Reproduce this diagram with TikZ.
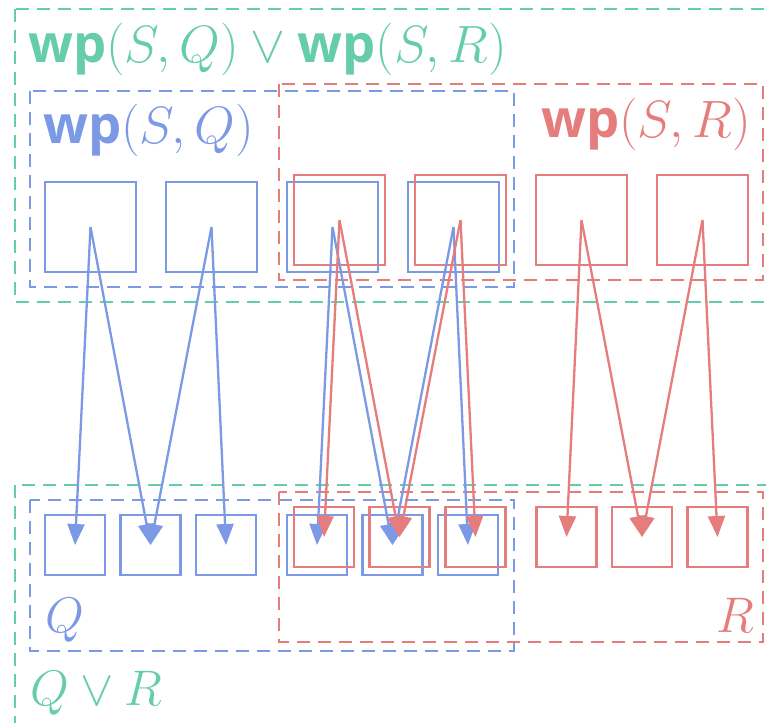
\RequirePackage{fix-cm}
\documentclass[tikz,border=0pt]{standalone}
\usepackage{fontspec}
\newfontfamily\wpf{Open Sans}
\usetikzlibrary{arrows.meta}
\definecolor{cgreen}{RGB}{102,205,170}
\definecolor{cblue}{RGB}{124,153,230}
\definecolor{cred}{RGB}{229,125,125}
\newcommand{\wpl}{\mbox{\wpf\bfseries wp}}
\begin{document}
\begin{tikzpicture}[x=1pt,y=-1pt,
  region/.style={dashed, dash pattern=on 13pt off 8pt, line width=2.8pt},
  bigbox/.style={draw, line width=2.8pt, minimum width=91pt, minimum height=90pt, inner sep=0pt},
  smallbox/.style={draw, line width=2.8pt, minimum width=60pt, minimum height=60pt, inner sep=0pt},
  link/.style={line width=2.3pt, -{Triangle[length=21pt,width=17pt]}},
  lbl/.style={anchor=base west, inner sep=0pt, font=\fontsize{50}{60}\selectfont},
  biglbl/.style={anchor=base west, inner sep=0pt, font=\fontsize{52.5}{63}\selectfont}
]
\useasboundingbox (0,0) rectangle (766,723);
\clip (0,0) rectangle (766,723);
% outer green regions
\draw[region, cgreen] (15,9) rectangle (800,302);
\draw[region, cgreen] (15,485) rectangle (800,760);
% top regions
\draw[region, cblue] (30,91) rectangle (514,287);
\draw[region, cred] (279,84) rectangle (763,280);
% bottom regions
\draw[region, cblue] (30,500) rectangle (514,651);
\draw[region, cred] (279,492) rectangle (763,642);
% labels
\node[biglbl, text=cgreen] (lwpqr) at (28,62) {$\wpl(S,Q)\vee\wpl(S,R)$};
\node[biglbl, text=cblue] (lwpq) at (43,143) {$\wpl(S,Q)$};
\node[biglbl, text=cred] (lwpr) at (541,137) {$\wpl(S,R)$};
\node[lbl, text=cblue] (lq) at (45,632) {$Q$};
\node[lbl, text=cred] (lr) at (716,632) {$R$};
\node[lbl, text=cgreen] (lqr) at (30,705) {$Q\vee R$};
% top boxes
\foreach \i/\x in {1/90.5,2/211.5,3/332.5,4/453.5}
  \node[bigbox, cblue] (tb\i) at (\x,227) {};
\foreach \i/\x in {1/339.5,2/460.5,3/581.5,4/702.5}
  \node[bigbox, cred] (tr\i) at (\x,220) {};
% bottom boxes
\foreach \i/\x in {1/75,2/150.5,3/226,4/317,5/392.5,6/468}
  \node[smallbox, cblue] (bb\i) at (\x,545) {};
\foreach \i/\x in {1/324,2/399.5,3/475.5,4/566.5,5/642,6/717.5}
  \node[smallbox, cred] (br\i) at (\x,537) {};
% arrows
\foreach \s/\a/\b in {1/1/2,2/2/3,3/4/5,4/5/6}{
  \draw[link, cblue] (tb\s.center) -- (bb\a.center);
  \draw[link, cblue] (tb\s.center) -- (bb\b.center);
}
\foreach \s/\a/\b in {1/1/2,2/2/3,3/4/5,4/5/6}{
  \draw[link, cred] (tr\s.center) -- (br\a.center);
  \draw[link, cred] (tr\s.center) -- (br\b.center);
}
\end{tikzpicture}
\end{document}
